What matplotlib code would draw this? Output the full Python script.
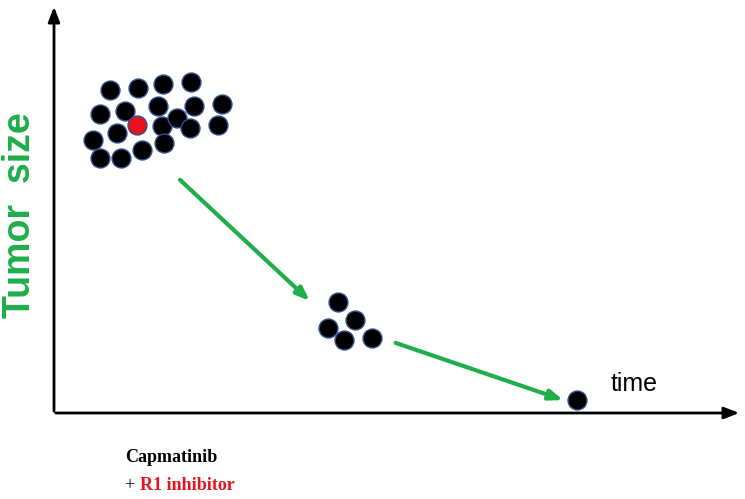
import matplotlib
matplotlib.use("Agg")
import matplotlib.pyplot as plt

# cell positions (pixel coords of the schematic)
cluster1_x = [110,138,163,191,100,125,158,194,222,93,117,162,177,190,218,100,121,142,164]
cluster1_y = [90,88,84,82,114,111,106,106,104,140,133,126,118,128,125,158,158,150,143]
red_x = [137]; red_y = [125]
cluster2_x = [338,328,355,344,372]
cluster2_y = [302,328,320,340,338]
final_x = [577]; final_y = [400]
arrows = [((178,178),(312,303)), ((393,342),(566,401))]

fig = plt.figure(figsize=(7.45,4.99), dpi=100)
ax = fig.add_axes([0,0,1,1])
ax.set_xlim(0,745); ax.set_ylim(499,0); ax.axis('off')

ax.annotate('', xy=(54,4), xytext=(54,414), arrowprops=dict(arrowstyle='-|>,head_width=0.35,head_length=0.9', lw=2, color='black'))
ax.annotate('', xy=(742,413), xytext=(53,413), arrowprops=dict(arrowstyle='-|>,head_width=0.35,head_length=0.9', lw=2, color='black'))

s = 185
for xs, ys, c in [(cluster1_x,cluster1_y,'black'),(red_x,red_y,'#e8141b'),(cluster2_x,cluster2_y,'black'),(final_x,final_y,'black')]:
    ax.scatter(xs, ys, s=s, c=c, edgecolors='#2f4f8f', linewidths=1, zorder=3)

for (x0,y0),(x1,y1) in arrows:
    ax.annotate('', xy=(x1,y1), xytext=(x0,y0), arrowprops=dict(arrowstyle='-|>,head_width=0.3,head_length=0.8', lw=3, color='#1fae4b'))

ax.text(20, 215, 'Tumor  size', rotation=90, color='#1fae4b', fontsize=27, fontweight='bold', ha='center', va='center', family='Liberation Sans')
ax.text(611, 384, 'time', fontsize=18, ha='left', va='center', family='Liberation Sans')
ax.text(125, 457, 'Capmatinib', fontsize=13, fontweight='bold', ha='left', va='center', family='Liberation Serif')
ax.text(125, 486, '+ ', fontsize=13, ha='left', va='center', family='Liberation Serif')
ax.text(140, 486, 'R1 inhibitor', fontsize=13, fontweight='bold', color='#e8141b', ha='left', va='center', family='Liberation Serif')

fig.savefig('out.png', dpi=100)
